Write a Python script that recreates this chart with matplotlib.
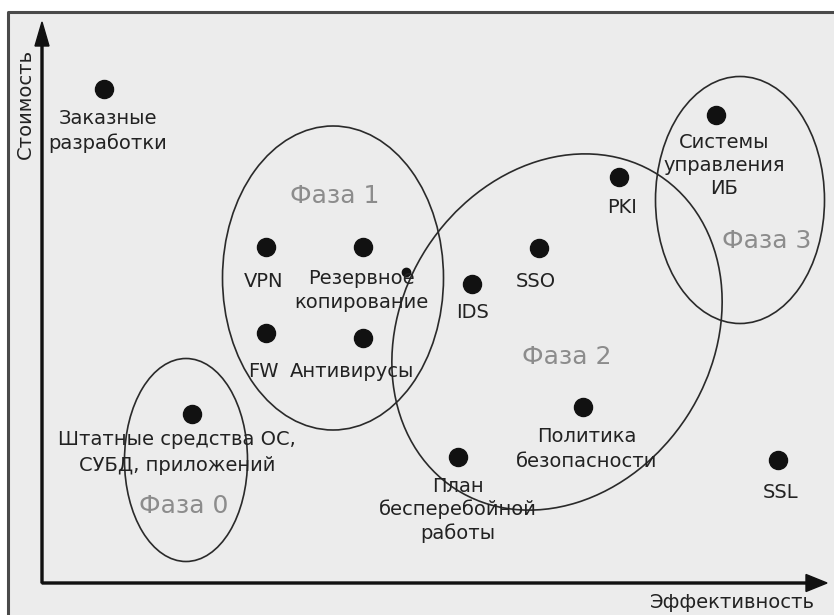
import matplotlib
matplotlib.use("Agg")
import matplotlib.pyplot as plt
from matplotlib.patches import Ellipse, Rectangle
from matplotlib.lines import Line2D

plt.rcParams['font.family'] = ['DejaVu Sans']

# means of protection: effectiveness (x) vs cost (y)
names = ['Заказные\nразработки', 'VPN', 'Резервное\nкопирование', 'FW',
         'Антивирусы', 'Штатные средства ОС,\nСУБД, приложений', 'IDS', 'SSO',
         'PKI', 'Системы\nуправления\nИБ', 'Политика\nбезопасности',
         'План\nбесперебойной\nработы', 'SSL']
effect = [62, 224, 321, 224, 321, 150, 430, 497, 577, 674, 541, 416, 736]
cost = [494, 336, 336, 250, 245, 169, 299, 335, 406, 468, 176, 126, 123]

# label offsets from the point, pixels (top of the text block)
lab_dx = [4, -2, -2, -3, -11, -15, 1, -3, 3, 8, 4, 0, 3]
lab_dy = [-20, -25, -22, -29, -24, -16, -19, -24, -21, -18, -20, -20, -23]
lab_ls = [1.35, 1.2, 1.35, 1.2, 1.2, 1.46, 1.2, 1.2, 1.2, 1.27, 1.4, 1.24, 1.2]

# phases (ellipses)
phase_names = ['Фаза 0', 'Фаза 1', 'Фаза 2', 'Фаза 3']
phase_cx = [144, 291, 515, 698]
phase_cy = [123, 305, 251, 383]
phase_w = [123, 221, 374, 169]
phase_h = [203, 304, 310, 247]
phase_ang = [0, 0, 57, 0]
phase_lx = [142, 293, 525, 725]
phase_ly = [70, 380, 219, 335]

fig = plt.figure(figsize=(8.34, 6.15), dpi=100)
fig.patch.set_facecolor('white')
ax = fig.add_axes([0, 0, 1, 1])
ax.set_xlim(-42, 792)
ax.set_ylim(-32, 583)
ax.axis('off')

# grey panel with border on left/top
bx0, by1 = 8 / 834, 1 - 12 / 615
ax.add_patch(Rectangle((bx0, 0), 1 - bx0, by1, transform=ax.transAxes,
                       facecolor='#ececec', edgecolor='none', zorder=0))
ax.add_line(Line2D([bx0, bx0, 1], [0, by1, by1], transform=ax.transAxes,
                   color='#4a4a4a', lw=2.2, zorder=1))

# axes with arrows
ax.arrow(0, 0, 0, 561, width=2, head_width=14, head_length=24,
         length_includes_head=True, color='#111111', zorder=3)
ax.arrow(0, 0, 785, 0, width=2, head_width=17, head_length=21,
         length_includes_head=True, color='#111111', zorder=3)
ax.text(-17, 479, 'Стоимость', rotation=90, ha='center', va='center',
        fontsize=14, color='#222222')
ax.text(690, -25, 'Эффективность', ha='center', va='baseline',
        fontsize=14, color='#222222')

for i in range(len(phase_names)):
    ax.add_patch(Ellipse((phase_cx[i], phase_cy[i]), phase_w[i], phase_h[i],
                         angle=phase_ang[i], fill=False, edgecolor='#2a2a2a',
                         lw=1.2, zorder=2))
    ax.text(phase_lx[i], phase_ly[i], phase_names[i], ha='center',
            va='baseline', fontsize=18, color='#8c8c8c', zorder=2)

ax.plot(effect, cost, 'o', ms=13, color='#111111', zorder=4)
ax.plot([364], [311], 'o', ms=6, color='#111111', zorder=4)

for i, nm in enumerate(names):
    ax.annotate(nm, (effect[i], cost[i]), xytext=(lab_dx[i], lab_dy[i]),
                textcoords='offset pixels', ha='center', va='top',
                multialignment='center', fontsize=14, color='#222222',
                linespacing=lab_ls[i], zorder=5)

fig.savefig('out.png', dpi=100)
